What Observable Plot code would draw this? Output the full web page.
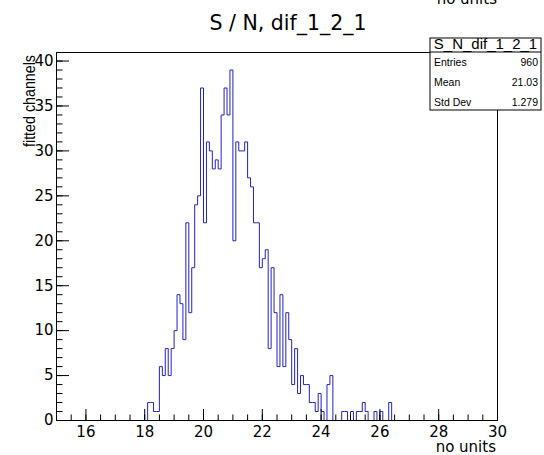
<!DOCTYPE html>
<html><head><meta charset="utf-8">
<script src="https://cdn.jsdelivr.net/npm/d3@7"></script>
<script src="https://cdn.jsdelivr.net/npm/@observablehq/plot@0.6"></script>
<style>body{margin:0;background:#fff}#chart{width:544px;height:455px}</style>
</head><body><div id="chart"></div>
<script>
const title = "S / N, dif_1_2_1";
const xLabel = "no units";
const yLabel = "fitted channels";
const statsName = "S_N_dif_1_2_1";
const statsLabels = ["Entries", "Mean", "Std Dev"];
const statsValues = ["960", "21.03", "1.279"];
const firstBinLow = 18.1;
const binWidth = 0.1;
const counts = [2,2,1,1,6,5,8,5,8,10,14,13,9,22,12,17,24,25,37,
  22,31,30,28,29,28,34,37,34,39,
  20,31,30,30,31,27,26,22,22,17,
  18,19,8,17,12,6,14,6,12,9,
  4,8,3,5,4,4,2,2,1,3,
  1,0,4,5,0,0,0,1,1,0,
  1,0,1,1,2,1,0,0,1,0,1,0,0,2];
const xDomain = [15, 30];
const yDomain = [0, 40.95];
const xMajorTicks = [16, 18, 20, 22, 24, 26, 28, 30];
const yMajorTicks = [0, 5, 10, 15, 20, 25, 30, 35, 40];

const W = 544, H = 455, mL = 56, mR = 47, mT = 52, mB = 35;
const fw = W - mL - mR, fh = H - mT - mB;
const xMinor = d3.range(15, 30.001, 0.5);
const yMinor = d3.range(0, 40.001, 1);

const lastHigh = +(firstBinLow + counts.length * binWidth).toFixed(2);
const pts = [{x: xDomain[0], y: 0}]
  .concat(counts.map((c, i) => ({x: +(firstBinLow + i * binWidth).toFixed(2), y: c})))
  .concat([{x: lastHigh, y: 0}, {x: xDomain[1], y: 0}]);

const plot = Plot.plot({
  width: W, height: H,
  marginLeft: mL, marginRight: mR, marginTop: mT, marginBottom: mB,
  style: {fontFamily: "DejaVu Sans", fontSize: "15px", background: "white", color: "black", overflow: "visible"},
  x: {domain: xDomain, ticks: xMajorTicks, tickSize: 0, tickPadding: 6, label: null},
  y: {domain: yDomain, ticks: yMajorTicks, tickSize: 0, tickPadding: 3, label: null},
  marks: [
    Plot.line(pts, {x: "x", y: "y", curve: "step-after", stroke: "#2222c4", strokeWidth: 1}),
    Plot.ruleX(xMinor, {insetTop: fh - 5.5, stroke: "black"}),
    Plot.ruleX(xMajorTicks, {insetTop: fh - 11, stroke: "black"}),
    Plot.ruleY(yMinor, {insetRight: fw - 6.5, stroke: "black"}),
    Plot.ruleY(yMajorTicks, {insetRight: fw - 13, stroke: "black"}),
    Plot.frame({stroke: "black"})
  ]
});
document.getElementById("chart").appendChild(plot);

const svg = d3.select(plot);
const txt = (x, y, s, size, anchor, family) => svg.append("text")
  .attr("x", x).attr("y", y).attr("text-anchor", anchor)
  .attr("font-family", family).attr("font-size", size).attr("fill", "black").text(s);
// Title
txt(288, 30, title, 20.5, "middle", "DejaVu Sans");
// clipped duplicate axis title at very top
txt(497, 4, xLabel, 15, "end", "DejaVu Sans");
// x axis title
txt(496, 452, xLabel, 15, "end", "DejaVu Sans");
// y axis title
svg.append("text").attr("transform", "translate(35,55) rotate(-90)").attr("text-anchor", "end")
  .attr("font-family", "Liberation Sans").attr("font-size", 17).attr("textLength", 92)
  .attr("lengthAdjust", "spacingAndGlyphs").attr("fill", "black").text(yLabel);
// stats box
const bx = 430, by = 38, bw = 111, bh = 72, hy = 52;
svg.append("rect").attr("x", bx).attr("y", by).attr("width", bw).attr("height", bh)
  .attr("fill", "white").attr("stroke", "black").attr("stroke-width", 1);
svg.append("line").attr("x1", bx).attr("x2", bx + bw).attr("y1", hy).attr("y2", hy).attr("stroke", "black");
txt(bx + bw / 2, 49, statsName, 15, "middle", "Liberation Sans");
const rowY = [66, 86, 106];
statsLabels.forEach((l, i) => {
  txt(bx + 4, rowY[i], l, 10.5, "start", "Liberation Sans");
  txt(bx + bw - 3, rowY[i], statsValues[i], 10.5, "end", "Liberation Sans");
});
</script></body></html>
